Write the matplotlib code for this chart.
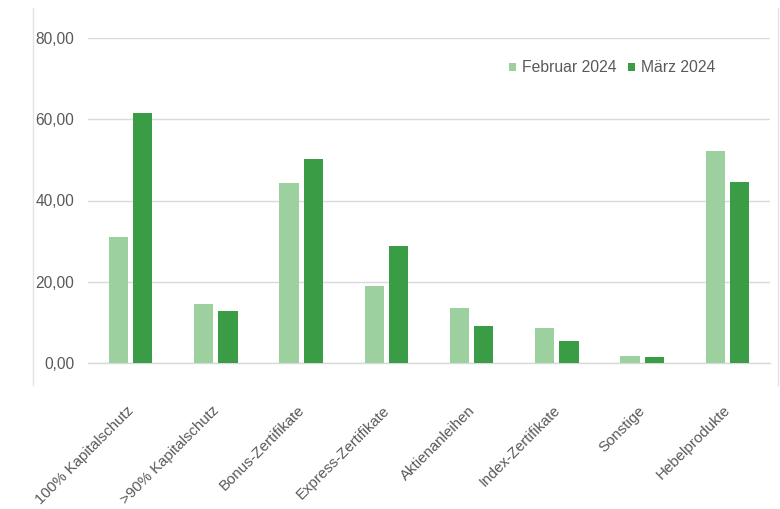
import matplotlib
matplotlib.use("Agg")
import matplotlib.pyplot as plt
import matplotlib.transforms as mtransforms
import numpy as np
from matplotlib.lines import Line2D

categories = ["100% Kapitalschutz", ">90% Kapitalschutz", "Bonus-Zertifikate",
              "Express-Zertifikate", "Aktienanleihen", "Index-Zertifikate",
              "Sonstige", "Hebelprodukte"]
feb_2024 = [31.0, 14.5, 44.3, 19.0, 13.5, 8.6, 1.7, 52.2]
maerz_2024 = [61.5, 12.8, 50.2, 28.8, 9.1, 5.4, 1.4, 44.6]
series_names = ["Februar 2024", "März 2024"]
yticks = [0, 20, 40, 60, 80]
ytick_labels = ["0,00", "20,00", "40,00", "60,00", "80,00"]

plt.rcParams['font.family'] = ['Liberation Sans', 'DejaVu Sans']
grey = '#595959'
c_light = '#9dd09f'
c_dark = '#3a9d45'

fig = plt.figure(figsize=(7.8, 5.09), dpi=100)
ax = fig.add_axes([88/780, 1-363/509, (770-88)/780, (363-38)/509])

x = np.arange(len(categories))
w = 0.225
off = 0.142
ax.bar(x - off, feb_2024, w, color=c_light, label=series_names[0], zorder=3)
ax.bar(x + off, maerz_2024, w, color=c_dark, label=series_names[1], zorder=3)

ax.set_xlim(-0.5, len(categories) - 0.5)
ax.set_ylim(0, 80)
ax.set_yticks(yticks)
ax.set_yticklabels(ytick_labels)
ax.yaxis.grid(True, color='#d9d9d9', linewidth=1, zorder=0)
ax.set_axisbelow(True)
for s in ['top', 'right', 'left']:
    ax.spines[s].set_visible(False)
ax.spines['bottom'].set_color('#d9d9d9')
ax.spines['bottom'].set_linewidth(1)
ax.tick_params(axis='y', length=0, pad=10, labelsize=11.2, labelcolor=grey)
ax.tick_params(axis='x', length=0, pad=29, labelsize=10.8, labelcolor=grey)
ax.set_xticks(x)
ax.set_xticklabels(categories, rotation=45, ha='right', va='top', rotation_mode='anchor')
shift = mtransforms.ScaledTranslation(-4/100, 0, fig.dpi_scale_trans)
for lbl in ax.get_xticklabels():
    lbl.set_transform(lbl.get_transform() + shift)

fig.legend(loc='center', bbox_to_anchor=(612/780, 1-68/509), ncol=2, frameon=False,
           handlelength=0.45, handleheight=0.45, handletextpad=0.35, columnspacing=0.75,
           fontsize=11.3, labelcolor=grey)

# outer chart frame lines
fig.add_artist(Line2D([33/780, 33/780], [1-8/509, 1-385/509], color='#e3e3e3', lw=1))
fig.add_artist(Line2D([778/780, 778/780], [1-8/509, 1-385/509], color='#e3e3e3', lw=1))

fig.savefig("out.png", dpi=100)
